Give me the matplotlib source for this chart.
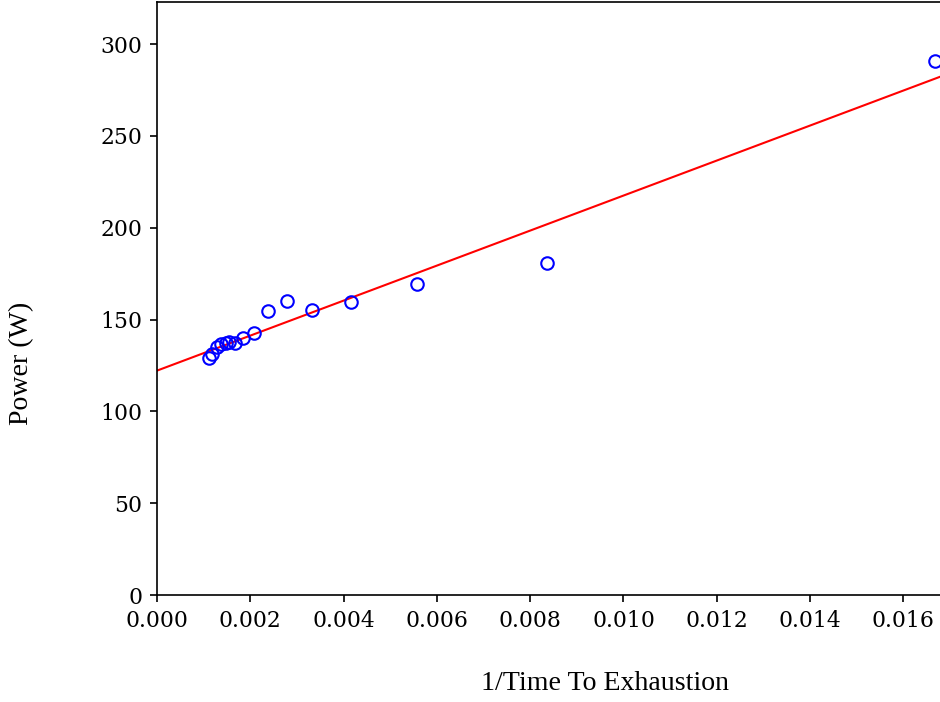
import numpy as np
import matplotlib
matplotlib.use("Agg")
import matplotlib.pyplot as plt

# Data
inv_time = [0.001115, 0.001185, 0.00128, 0.001372, 0.001473, 0.00155,
            0.001672, 0.00185, 0.002086, 0.002386, 0.00278, 0.003333,
            0.004159, 0.005567, 0.008354, 0.016667]
power = [128.9, 131.0, 135.2, 136.5, 137.4, 137.6,
         137.4, 139.8, 142.5, 154.6, 160.1, 155.2,
         159.4, 169.3, 180.9, 290.7]

xlim = (0.0, 0.017252)
ylim = (0.0, 322.9)
xticks = [0.000, 0.002, 0.004, 0.006, 0.008, 0.010, 0.012, 0.014, 0.016]
yticks = [0, 50, 100, 150, 200, 250, 300]

W, H, DPI = 940, 702, 150
fig = plt.figure(figsize=(W / DPI, H / DPI), dpi=DPI)
ax = fig.add_axes([157 / W, 107 / H, (961.8 - 157) / W, (595 - 2) / H])

x = np.array(inv_time)
y = np.array(power)
slope, intercept = np.polyfit(x, y, 1)
xs = np.array(xlim)
ax.plot(xs, slope * xs + intercept, color="red", lw=1.0)
ax.plot(x, y, "o", mfc="none", mec="blue", ms=6, mew=1.0)

ax.set_xlim(*xlim)
ax.set_ylim(*ylim)
ax.set_xticks(xticks)
ax.set_xticklabels([f"{v:.3f}" for v in xticks])
ax.set_yticks(yticks)
for lab in ax.get_xticklabels() + ax.get_yticklabels():
    lab.set_fontfamily("DejaVu Serif")
    lab.set_fontsize(10.5)

fig.text(605 / W, 1 - 683 / H, "1/Time To Exhaustion", ha="center", va="center",
         family="Liberation Serif", fontsize=13.4)
fig.text(22 / W, 1 - 363 / H, "Power (W)", ha="center", va="center", rotation=90,
         family="Liberation Serif", fontsize=13.4)

fig.savefig("out.png", dpi=DPI)
